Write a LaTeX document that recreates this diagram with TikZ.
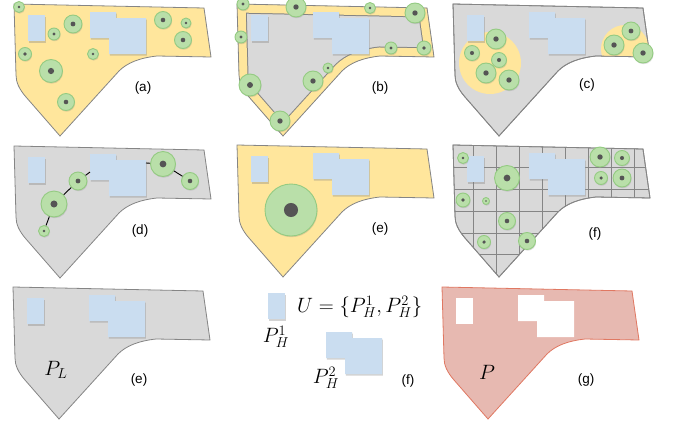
\documentclass[tikz,border=0pt]{standalone}
\usepackage{fontspec}
\setsansfont{Liberation Sans}
\usetikzlibrary{shadows}

\definecolor{lotfill}{HTML}{D9D9D9}
\definecolor{lotline}{HTML}{858585}
\definecolor{band}{HTML}{FFE69C}
\definecolor{housefill}{HTML}{CADDF0}
\definecolor{leaf}{HTML}{B9DFA9}
\definecolor{leafline}{HTML}{94CB82}
\definecolor{trunk}{HTML}{555555}
\definecolor{redfill}{HTML}{E7B9B1}
\definecolor{redline}{HTML}{E07862}

% outline of the plot, local coordinates (top left corner at the origin)
\newcommand{\lotpath}{(0,0) -- (190,4) -- (197,53) -- (143,52) .. controls (125,54) and (113,59) .. (105,67) -- (46,132) -- (12,93) .. controls (5,85) and (2,78) .. (2,71) -- cycle}
\newcommand{\hsmall}{(0,0) rectangle (17,26)}
\newcommand{\hbig}{(0,0) -- (26,0) -- (26,6) -- (56,6) -- (56,42) -- (19,42) -- (19,26) -- (0,26) -- cycle}
\newcommand{\houses}{%
  \fill[house, shift={(14,11)}] \hsmall;
  \fill[house, shift={(76,8)}] \hbig;}

\begin{document}
\begin{tikzpicture}[x=1pt, y=-1pt,
  lot/.style={fill=lotfill, draw=lotline, line width=.8pt},
  house/.style={fill=housefill, drop shadow={shadow xshift=.8pt, shadow yshift=-1.5pt, opacity=.35}},
  tree/.style={circle, inner sep=0pt, minimum size=2*#1, fill=leaf, draw=leafline, line width=.9pt,
    drop shadow={shadow xshift=.6pt, shadow yshift=-1.2pt, opacity=.25},
    path picture={\fill[trunk] (path picture bounding box.center) circle[radius=.27*#1pt];}},
  link/.style={line width=.9pt},
  gridline/.style={draw=lotline, line width=.8pt},
  tag/.style={font=\sffamily\fontsize{13.5}{16}\selectfont},
  sym/.style={font=\huge}]
\useasboundingbox (0,0) rectangle (677,423);

% (a)
\begin{scope}[shift={(14,4)}]
  \filldraw[lot, fill=band] \lotpath;
  \houses
\end{scope}
\foreach \x/\y/\r [count=\i] in {19/7/5.5, 73/24/9, 54/34/6, 25/54/6.5, 93/54/5.5,
    51/71/11.5, 66/102/8.5, 163/20/8.5, 186/23/5, 183/40/8.5}
  \node[tree=\r] (a\i) at (\x,\y) {};
\node[tag] (la) at (143,88) {(a)};

% (b)
\begin{scope}[shift={(237,4)}]
  \fill[lotfill] \lotpath;
  \begin{scope}
    \clip \lotpath;
    \draw[line width=19pt, draw=lotline] \lotpath;
    \draw[line width=17pt, draw=band] \lotpath;
  \end{scope}
  \draw[lot, fill=none] \lotpath;
  \houses
\end{scope}
\foreach \x/\y/\r [count=\i] in {243/4/6, 296/7/10, 370/8/5.5, 415/13/10, 241/37/6,
    391/48/6, 424/48/7, 328/68/5, 313/81/10, 250/85/11, 280/121/10}
  \node[tree=\r] (b\i) at (\x,\y) {};
\node[tag] (lb) at (380,88) {(b)};

% (c)
\begin{scope}[shift={(453,4)}]
  \filldraw[lot] \lotpath;
  \begin{scope}
    \clip \lotpath;
    \fill[band] (37,59) circle (31pt) (172,45) circle (24pt);
  \end{scope}
  \draw[lot, fill=none] \lotpath;
  \houses
\end{scope}
\foreach \x/\y/\r [count=\i] in {496/39/10, 472/53/7.5, 499/60/7.5, 486/73/10,
    509/80/10, 631/31/9, 614/45/10, 643/53/10}
  \node[tree=\r] (c\i) at (\x,\y) {};
\node[tag] (lc) at (587,85) {(c)};

% (d)
\begin{scope}[shift={(14,146)}]
  \filldraw[lot] \lotpath;
  \houses
\end{scope}
\foreach \x/\y/\r [count=\i] in {78/181/9, 54/204/13, 44/231/5.5, 163/164/12.5, 190/181/8.5}
  \node[tree=\r] (d\i) at (\x,\y) {};
\coordinate (dA) at (90,172);
\coordinate (dB) at (146,163);
\foreach \s/\t in {d3/d2, d2/d1, d1/dA, dB/d4, d4/d5}
  \draw[link] (\s) -- (\t);
\node[tag] (ld) at (140,231) {(d)};

% (e)
\begin{scope}[shift={(237,145)}]
  \filldraw[lot, fill=band] \lotpath;
  \houses
\end{scope}
\node[tree=26] (e1) at (291,210) {};
\node[tag] (le) at (380,229) {(e)};

% (f)
\begin{scope}[shift={(453,145)}]
  \filldraw[lot] \lotpath;
  \begin{scope}
    \clip \lotpath;
    \foreach \x in {20,43,...,181}
      \draw[gridline] (\x,-5) -- (\x,140);
    \foreach \y in {22,44,66,88,109}
      \draw[gridline] (-5,\y) -- (205,\y);
  \end{scope}
  \draw[lot, fill=none] \lotpath;
  \houses
\end{scope}
\foreach \x/\y/\r [count=\i] in {463/158/5.5, 507/178/12.5, 600/157/10, 622/158/7.5,
    601/178/6.5, 622/178/9, 463/200/7, 486/201/3.5, 507/221/8.5, 484/242/6.5, 527/241/8.5}
  \node[tree=\r] (f\i) at (\x,\y) {};
\node[tag] (lf) at (595,234) {(f)};

% second (e): the plot alone
\begin{scope}[shift={(13,287)}]
  \filldraw[lot] \lotpath;
  \houses
\end{scope}
\node[sym] (PL) at (56,370) {$P_L$};
\node[tag] (le2) at (139,380) {(e)};

% second (f): the holes
\fill[house, shift={(268,293)}] \hsmall;
\fill[house, shift={(326,332)}] \hbig;
\node[sym, anchor=west, inner sep=0pt] (U) at (297,307) {$U=\{P_H^1,P_H^2\}$};
\node[sym] (PH1) at (276,337) {$P_H^1$};
\node[sym] (PH2) at (326,378) {$P_H^2$};
\node[tag] (lf2) at (408,381) {(f)};

% (g)
\begin{scope}[shift={(442,287)}]
  \filldraw[fill=redfill, draw=redline, line width=.8pt] \lotpath;
  \fill[white, shift={(14,11)}] \hsmall;
  \fill[white, shift={(76,8)}] \hbig;
\end{scope}
\node[sym] (P) at (487,372) {$P$};
\node[tag] (lg) at (586,380) {(g)};
\end{tikzpicture}
\end{document}
